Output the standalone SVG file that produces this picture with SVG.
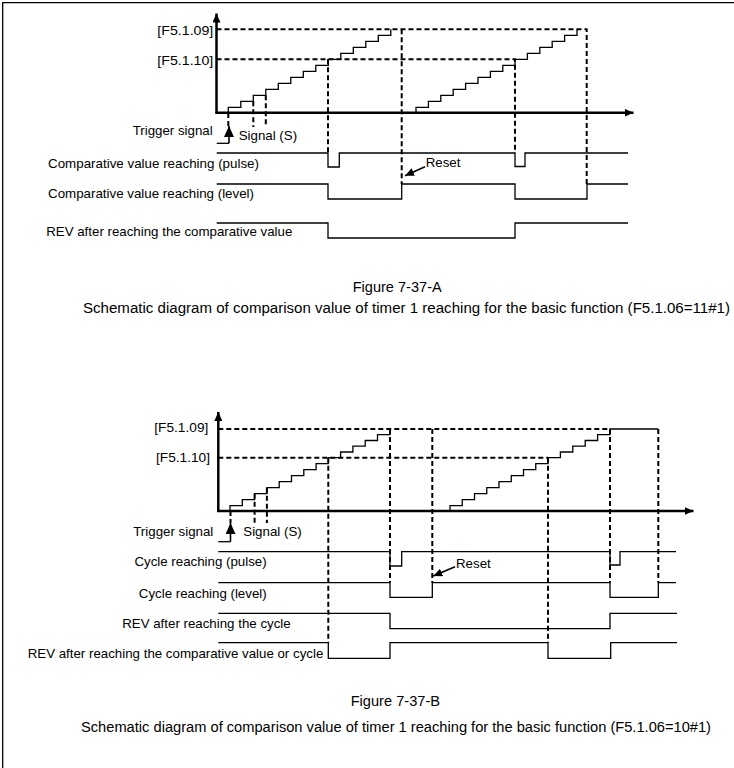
<svg xmlns="http://www.w3.org/2000/svg" width="734" height="768" viewBox="0 0 734 768">
<style>
text{font-family:"Liberation Sans",Arial,sans-serif;font-size:13.3px;fill:#000}
.end{text-anchor:end}
.cap{font-size:14px}
.ax{stroke:#000;stroke-width:2.5;fill:none}
.sig{stroke:#000;stroke-width:1.3;fill:none}
.dash{stroke:#000;stroke-width:2;stroke-dasharray:5 3;fill:none}
.thin{stroke:#000;stroke-width:1.6;fill:none}
</style>
<defs>
<marker id="axh" markerUnits="userSpaceOnUse" markerWidth="9" markerHeight="8" refX="9" refY="4" orient="auto"><path d="M0,0 L9,4 L0,8 z" fill="#000"/></marker>
<marker id="trg" markerUnits="userSpaceOnUse" markerWidth="11" markerHeight="10" refX="11" refY="5" orient="auto"><path d="M0,0 L11,5 L0,10 z" fill="#000"/></marker>
<marker id="rst" markerUnits="userSpaceOnUse" markerWidth="9" markerHeight="8" refX="9" refY="4" orient="auto"><path d="M0,0 L9,4 L0,8 z" fill="#000"/></marker>
</defs>
<g id="frame"><path d="M2.7,768 V2.7 H734" stroke="#000" stroke-width="1.3" fill="none"/></g>

<g id="figure-a">
<g id="axes-a">
<path class="ax" d="M216.5,113 V13.5" marker-end="url(#axh)"/>
<path class="ax" d="M215.3,112.7 H633.5" marker-end="url(#axh)"/>
</g>
<g id="stairs-a">
<path class="sig" d="M228.3,113 V107.3 H240.8 V101.3 H253.3 V95.3 H265.8 V89.3 H278.3 V83.3 H290.8 V77.3 H303.3 V71.3 H315.8 V65.3 H328.3 V59.3 H340.8 V53.3 H353.3 V47.3 H365.8 V41.3 H378.3 V35.3 H390.8 V29.3"/>
<path class="sig" d="M416,113 V107.3 H428.4 V101.3 H440.8 V95.3 H453.2 V89.3 H465.6 V83.3 H478 V77.3 H490.4 V71.3 H502.8 V65.3 H515 V59.3 H527.4 V53.3 H539.8 V47.3 H552.2 V41.3 H564.6 V35.3 H577 V29.3"/>
</g>
<g id="connectors-a">
<path class="dash" d="M216.5,29.3 H586.7 V184"/>
<path class="dash" d="M216.5,59.3 H515 V153"/>
<path class="dash" d="M228.3,113 V126"/>
<path class="dash" d="M253.3,101.3 V127"/>
<path class="dash" d="M265.8,95.3 V127"/>
<path class="dash" d="M328,59.3 V153"/>
<path class="dash" d="M401.7,29.3 V184"/>
<path class="thin" d="M425,166.7 L405,175.7" marker-end="url(#rst)"/>
</g>
<g id="signals-a">
<path class="sig" d="M216.7,143.3 H229"/>
<path class="thin" d="M229,143.3 V126" marker-end="url(#trg)"/>
<path class="sig" d="M216.7,153 H328 V167 H339.3 V153 H515 V166.5 H525 V153 H628"/>
<path class="sig" d="M216.7,184 H328 V199 H401.7 V184 H515 V199 H587 V184 H628"/>
<path class="sig" d="M216.7,223 H328 V238 H515 V223 H628"/>
</g>
<g id="labels-a">
<text class="end" x="213.3" y="34.5" textLength="56" lengthAdjust="spacingAndGlyphs">[F5.1.09]</text>
<text class="end" x="213.3" y="64.5" textLength="56" lengthAdjust="spacingAndGlyphs">[F5.1.10]</text>
<text class="end" x="212.7" y="135">Trigger signal</text>
<text x="238.7" y="140">Signal (S)</text>
<text x="48" y="168.3" textLength="211" lengthAdjust="spacingAndGlyphs">Comparative value reaching (pulse)</text>
<text x="48" y="198.3" textLength="206" lengthAdjust="spacingAndGlyphs">Comparative value reaching (level)</text>
<text class="end" x="292.3" y="235.7">REV after reaching the comparative value</text>
<text x="425.7" y="166.7">Reset</text>
<text class="cap" x="352.7" y="292.3" textLength="89" lengthAdjust="spacingAndGlyphs">Figure 7-37-A</text>
<text class="cap" x="83" y="313" textLength="647" lengthAdjust="spacingAndGlyphs">Schematic diagram of comparison value of timer 1 reaching for the basic function (F5.1.06=11#1)</text>
</g>
</g>

<g id="figure-b">
<g id="axes-b">
<path class="ax" d="M218.3,511.3 V412" marker-end="url(#axh)"/>
<path class="ax" d="M217,511 H693.5" marker-end="url(#axh)"/>
</g>
<g id="stairs-b">
<path class="sig" d="M230,511 V505.7 H242.3 V499.7 H254.6 V493.7 H266.9 V487.7 H279.2 V481.7 H291.5 V475.7 H303.8 V469.7 H316.1 V463.7 H328.3 V457.7 H340.6 V452 H352.9 V446.2 H365.2 V440.5 H377.5 V434.7 H390 V429"/>
<path class="sig" d="M450,511 V505.7 H462.25 V499.7 H474.5 V493.7 H486.75 V487.7 H499 V481.7 H511.25 V475.7 H523.5 V469.7 H535.75 V463.7 H548 V457.7 H560.4 V452 H572.8 V446.2 H585.2 V440.5 H597.6 V434.7 H610 V429 H658.3"/>
</g>
<g id="connectors-b">
<path class="dash" d="M218.3,429 H610"/>
<path class="dash" d="M218.3,457.7 H548"/>
<path class="dash" d="M230.5,511 V523"/>
<path class="dash" d="M254.6,493.7 V523"/>
<path class="dash" d="M266.9,487.7 V523"/>
<path class="dash" d="M328.3,457.7 V642.7"/>
<path class="dash" d="M390,429 V582.7"/>
<path class="dash" d="M432.3,429 V582.7"/>
<path class="dash" d="M548,457.7 V642.7"/>
<path class="dash" d="M610,429 V582.7"/>
<path class="dash" d="M658.3,429 V582.7"/>
<path class="thin" d="M455,566.7 L433.3,576" marker-end="url(#rst)"/>
</g>
<g id="signals-b">
<path class="sig" d="M218.3,541.7 H230.5"/>
<path class="thin" d="M230.5,541.7 V523" marker-end="url(#trg)"/>
<path class="sig" d="M218.3,551.7 H390 V566 H401.7 V551.7 H610 V565 H620 V551.7 H676"/>
<path class="sig" d="M218.3,582.7 H390 V597.3 H432.3 V582.7 H610 V597.3 H658.3 V582.7 H676"/>
<path class="sig" d="M218.3,613.3 H390 V628.7 H610 V613.3 H677"/>
<path class="sig" d="M218.3,642.7 H328.3 V658.3 H390 V642.7 H548 V658.3 H610.7 V642.7 H677"/>
</g>
<g id="labels-b">
<text class="end" x="208.3" y="432.3" textLength="54" lengthAdjust="spacingAndGlyphs">[F5.1.09]</text>
<text class="end" x="210" y="461.7" textLength="54" lengthAdjust="spacingAndGlyphs">[F5.1.10]</text>
<text class="end" x="213.3" y="535.7">Trigger signal</text>
<text x="243.3" y="535.7">Signal (S)</text>
<text class="end" x="266.7" y="565.7">Cycle reaching (pulse)</text>
<text class="end" x="266.7" y="598.3">Cycle reaching (level)</text>
<text class="end" x="290.7" y="628.3">REV after reaching the cycle</text>
<text class="end" x="323.3" y="658.3">REV after reaching the comparative value or cycle</text>
<text x="456" y="567.7">Reset</text>
<text class="cap" x="350.7" y="706" textLength="89.3" lengthAdjust="spacingAndGlyphs">Figure 7-37-B</text>
<text class="cap" x="81" y="731.5" textLength="630" lengthAdjust="spacingAndGlyphs">Schematic diagram of comparison value of timer 1 reaching for the basic function (F5.1.06=10#1)</text>
</g>
</g>
</svg>
